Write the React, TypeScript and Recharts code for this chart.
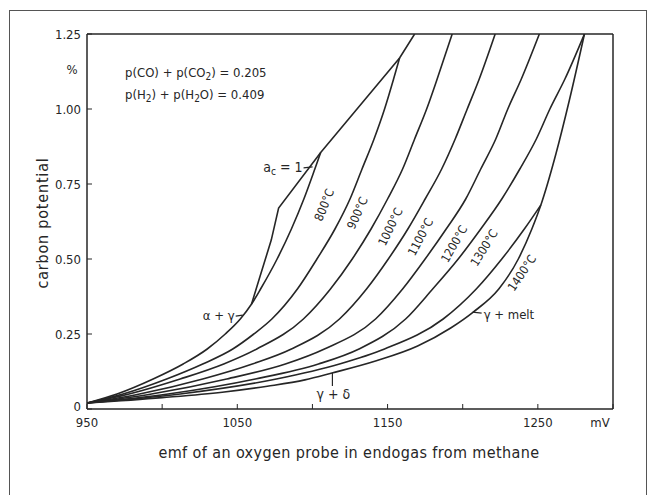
import React from "react";
import { LineChart, Line, XAxis, YAxis, ReferenceDot } from "recharts";

const FONT = "'DejaVu Sans Condensed', 'Liberation Sans Narrow', 'DejaVu Sans', sans-serif";
const INK = "#262626";

// axis ticks
const xTicks = [950, 1000, 1050, 1100, 1150, 1200, 1250, 1300];
const xTickLabels = ["950", "", "1050", "", "1150", "", "1250", "mV"];
const yTicks = [0, 0.25, 0.5, 0.75, 1, 1.25];
const yTickLabels = ["0", "0.25", "0.50", "0.75", "1.00", "1.25"];

// [emf mV, carbon potential %]
const curve800 = [[950, 0.02], [970, 0.05], [994, 0.1], [1014, 0.15], [1030, 0.2], [1042, 0.25], [1052, 0.3], [1059.5, 0.35], [1065.5, 0.4], [1076.5, 0.5], [1086, 0.6], [1094.3, 0.7], [1101.6, 0.8], [1105.5, 0.855]];
const curve900 = [[950, 0.02], [974, 0.05], [1003, 0.1], [1027, 0.15], [1047, 0.2], [1061, 0.25], [1073, 0.3], [1090, 0.4], [1103, 0.5], [1115, 0.6], [1125, 0.7], [1133, 0.8], [1141, 0.9], [1148, 1.0], [1154, 1.1], [1158, 1.17]];
const curve1000 = [[950, 0.02], [978, 0.05], [1012, 0.1], [1041, 0.15], [1063, 0.2], [1094, 0.3], [1112, 0.4], [1126.5, 0.5], [1139, 0.6], [1150, 0.7], [1160, 0.8], [1168, 0.9], [1176, 1.0], [1183, 1.1], [1193, 1.25]];
const curve1100 = [[950, 0.02], [985, 0.05], [1027, 0.1], [1060, 0.15], [1086, 0.2], [1118, 0.3], [1136, 0.4], [1150.5, 0.5], [1163.5, 0.6], [1175, 0.7], [1186, 0.8], [1195, 0.9], [1203, 1.0], [1211, 1.1], [1221.6, 1.25]];
const curve1200 = [[950, 0.02], [993, 0.05], [1043, 0.1], [1082, 0.15], [1108, 0.2], [1142, 0.3], [1160, 0.4], [1175, 0.5], [1189, 0.6], [1202, 0.7], [1212, 0.8], [1222, 0.9], [1230, 1.0], [1239, 1.1], [1251, 1.25]];
const curve1300 = [[950, 0.02], [1004, 0.05], [1062, 0.1], [1104, 0.15], [1131, 0.2], [1162, 0.3], [1180, 0.4], [1197, 0.5], [1212, 0.6], [1226, 0.7], [1238, 0.8], [1249, 0.9], [1258, 1.0], [1268, 1.1], [1281, 1.25]];
const curve1400 = [[950, 0.02], [1012, 0.05], [1076, 0.1], [1118, 0.15], [1148, 0.2], [1187, 0.3], [1209, 0.4], [1226, 0.5], [1241, 0.6], [1252, 0.68]];
// gamma+delta / gamma+melt boundary
const meltLine = [[950, 0.02], [1000, 0.038], [1040, 0.056], [1070, 0.076], [1095, 0.097], [1113, 0.12], [1142, 0.16], [1170, 0.21], [1192, 0.27], [1207, 0.323], [1224, 0.4], [1237, 0.5], [1246, 0.6], [1252, 0.68], [1262, 0.85], [1271, 1.03], [1281, 1.25]];
// alpha+gamma boundary then graphite saturation (a_c = 1)
const graphiteLine = [[1059.5, 0.35], [1065, 0.44], [1072.6, 0.563], [1077.5, 0.67], [1105.5, 0.855], [1133, 1.02], [1158, 1.17], [1168, 1.25]];

const toRows = (pts: number[][]) => pts.map(([mV, cp]) => ({ mV, cp }));

const curves = [curve800, curve900, curve1000, curve1100, curve1200, curve1300, curve1400, meltLine];

const tempLabels = [
  { text: "800°C", mV: 1108, cp: 0.68, angle: -68 },
  { text: "900°C", mV: 1130, cp: 0.653, angle: -66 },
  { text: "1000°C", mV: 1152, cp: 0.607, angle: -64 },
  { text: "1100°C", mV: 1172, cp: 0.573, angle: -62 },
  { text: "1200°C", mV: 1194.4, cp: 0.55, angle: -60 },
  { text: "1300°C", mV: 1214.3, cp: 0.537, angle: -58 },
  { text: "1400°C", mV: 1239.5, cp: 0.453, angle: -56 },
];

function XTick(props: any) {
  const { x, y, payload } = props;
  const i = xTicks.indexOf(payload.value);
  const label = xTickLabels[i] || "";
  const dx = label === "mV" ? -13 : 0;
  return (
    <text x={x + dx} y={y} dy="0.71em" textAnchor="middle" fontFamily={FONT} fontSize={13} fill={INK}>
      {label}
    </text>
  );
}

function YTick(props: any) {
  const { x, y, payload } = props;
  const i = yTicks.indexOf(payload.value);
  const lift = payload.value === 0 ? -3 : 0;
  return (
    <text x={x} y={y + lift} dy="0.35em" textAnchor="end" fontFamily={FONT} fontSize={13} fill={INK}>
      {yTickLabels[i]}
    </text>
  );
}

const axisStyle = { stroke: INK, strokeWidth: 1.5 };

export default function App() {
  return (
    <div style={{ position: "absolute", left: 0, top: 0, width: 658, height: 495, background: "#fff" }}>
      <div style={{ position: "absolute", left: 9, top: 10, width: 636, height: 490, border: "1px solid #555" }} />
      <div style={{ position: "absolute", left: 0, top: 0 }}>
        <LineChart width={658} height={495} margin={{ top: 33, right: 44, bottom: 56, left: 27 }}>
          <XAxis xAxisId="b" type="number" dataKey="mV" domain={[950, 1300]} ticks={xTicks} interval={0}
            allowDataOverflow height={30} tickSize={-5} tickMargin={14} axisLine={axisStyle}
            tickLine={{ stroke: INK }} tick={<XTick />} />
          <XAxis xAxisId="t" orientation="top" type="number" dataKey="mV" domain={[950, 1300]} ticks={xTicks}
            interval={0} allowDataOverflow height={1} tickSize={-5} axisLine={axisStyle}
            tickLine={{ stroke: INK }} tick={false} />
          <YAxis yAxisId="l" type="number" domain={[0, 1.25]} ticks={yTicks} interval={0} allowDataOverflow
            width={60} tickSize={-5} tickMargin={11} axisLine={axisStyle} tickLine={{ stroke: INK }} tick={<YTick />} />
          <YAxis yAxisId="r" orientation="right" type="number" domain={[0, 1.25]} ticks={yTicks} interval={0}
            allowDataOverflow width={1} tickSize={-5} axisLine={axisStyle} tickLine={{ stroke: INK }} tick={false} />

          {curves.map((c, i) => (
            <Line key={i} xAxisId="b" yAxisId="l" data={toRows(c)} dataKey="cp" type="monotone"
              stroke={INK} strokeWidth={1.6} dot={false} isAnimationActive={false} />
          ))}
          <Line xAxisId="b" yAxisId="l" data={toRows(graphiteLine)} dataKey="cp" type="linear"
            stroke={INK} strokeWidth={1.6} dot={false} isAnimationActive={false} />

          {tempLabels.map((l) => (
            <ReferenceDot key={l.text} xAxisId="b" yAxisId="l" x={l.mV} y={l.cp} ifOverflow="visible"
              shape={(p: any) => (
                <text x={p.cx} y={p.cy} textAnchor="middle" dominantBaseline="central" fontFamily={FONT}
                  fontSize={12} fill={INK} transform={`rotate(${l.angle} ${p.cx} ${p.cy})`}>
                  {l.text}
                </text>
              )} />
          ))}

          <ReferenceDot xAxisId="b" yAxisId="l" x={1100.1} y={0.807} ifOverflow="visible"
            shape={(p: any) => (
              <g>
                <line x1={p.cx - 9} y1={p.cy + 1} x2={p.cx} y2={p.cy} stroke={INK} strokeWidth={1.2} />
                <text x={p.cx - 10} y={p.cy + 5} textAnchor="end" fontFamily={FONT} fontSize={14} fill={INK}>
                  a<tspan fontSize={10} dy={3}>c</tspan><tspan dy={-3}> = 1</tspan>
                </text>
              </g>
            )} />
          <ReferenceDot xAxisId="b" yAxisId="l" x={1053.6} y={0.313} ifOverflow="visible"
            shape={(p: any) => (
              <g>
                <line x1={p.cx - 7} y1={p.cy + 1} x2={p.cx} y2={p.cy} stroke={INK} strokeWidth={1.2} />
                <text x={p.cx - 8} y={p.cy + 5} textAnchor="end" fontFamily={FONT} fontSize={13} fill={INK}>α + γ</text>
              </g>
            )} />
          <ReferenceDot xAxisId="b" yAxisId="l" x={1113.3} y={0.12} ifOverflow="visible"
            shape={(p: any) => (
              <g>
                <line x1={p.cx} y1={p.cy} x2={p.cx} y2={p.cy + 13} stroke={INK} strokeWidth={1.2} />
                <text x={p.cx + 1} y={p.cy + 26} textAnchor="middle" fontFamily={FONT} fontSize={14} fill={INK}>γ + δ</text>
              </g>
            )} />
          <ReferenceDot xAxisId="b" yAxisId="l" x={1206.6} y={0.323} ifOverflow="visible"
            shape={(p: any) => (
              <g>
                <line x1={p.cx} y1={p.cy} x2={p.cx + 9} y2={p.cy + 1} stroke={INK} strokeWidth={1.2} />
                <text x={p.cx + 11} y={p.cy + 7} textAnchor="start" fontFamily={FONT} fontSize={13} fill={INK}>γ + melt</text>
              </g>
            )} />
        </LineChart>
      </div>
      <svg width={658} height={495} style={{ position: "absolute", left: 0, top: 0, pointerEvents: "none" }}>
        <g fontFamily={FONT} fill={INK}>
          <text x={72} y={74} fontSize={13} textAnchor="middle">%</text>
          <text x={125} y={77} fontSize={13}>p(CO) + p(CO<tspan fontSize={10} dy={3}>2</tspan><tspan dy={-3}>) = 0.205</tspan></text>
          <text x={125} y={99} fontSize={13}>p(H<tspan fontSize={10} dy={3}>2</tspan><tspan dy={-3}>) + p(H</tspan><tspan fontSize={10} dy={3}>2</tspan><tspan dy={-3}>O) = 0.409</tspan></text>
          <text x={42} y={223} fontSize={16} letterSpacing={0.8} textAnchor="middle" dominantBaseline="central" transform="rotate(-90 42 223)">carbon potential</text>
          <text x={349} y={458} fontSize={16} letterSpacing={0.4} textAnchor="middle">emf of an oxygen probe in endogas from methane</text>
        </g>
      </svg>
    </div>
  );
}
